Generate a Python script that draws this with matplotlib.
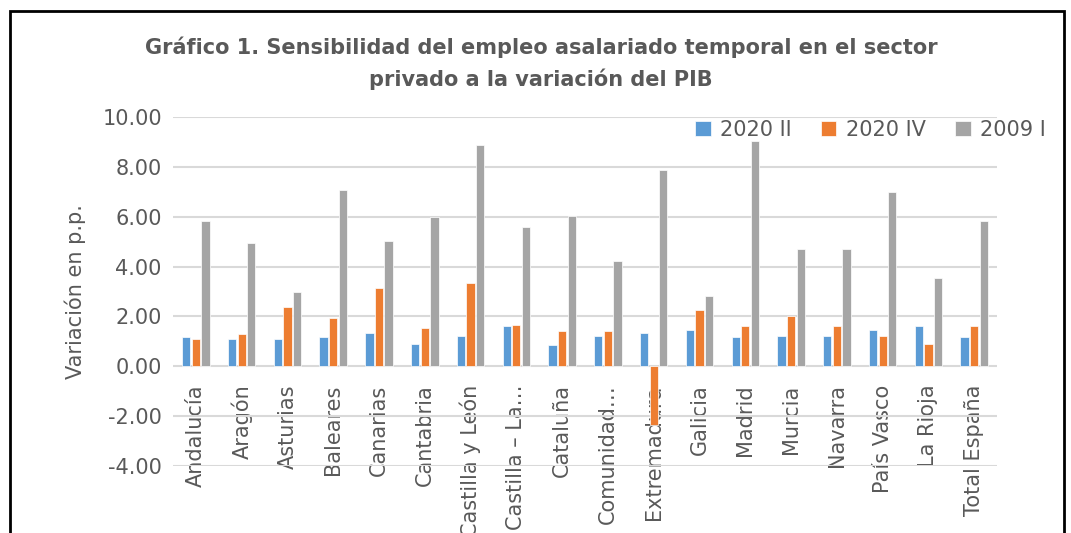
import matplotlib
matplotlib.use("Agg")
import numpy as np
import matplotlib.pyplot as plt
from matplotlib.patches import Rectangle
from matplotlib.ticker import FormatStrFormatter

regiones = ["Andalucía", "Aragón", "Asturias", "Baleares", "Canarias", "Cantabria",
            "Castilla y León", "Castilla – La…", "Cataluña", "Comunidad…", "Extremadura",
            "Galicia", "Madrid", "Murcia", "Navarra", "País Vasco", "La Rioja", "Total España"]
v2020_ii = [1.17, 1.10, 1.10, 1.17, 1.35, 0.91, 1.23, 1.61, 0.84, 1.23, 1.35,
            1.47, 1.17, 1.23, 1.23, 1.47, 1.61, 1.17]
v2020_iv = [1.09, 1.29, 2.37, 1.93, 3.15, 1.55, 3.34, 1.67, 1.42, 1.42, -2.37,
            2.25, 1.61, 2.00, 1.61, 1.23, 0.90, 1.61]
v2009_i = [5.84, 4.94, 2.96, 7.08, 5.01, 5.98, 8.86, 5.59, 6.04, 4.24, 7.89,
           2.83, 9.05, 4.69, 4.69, 7.00, 3.53, 5.84]
series = ["2020 II", "2020 IV", "2009 I"]
colores = ["#5B9BD5", "#ED7D31", "#A5A5A5"]

txt = "#595959"
fig = plt.figure(figsize=(10.71, 5.33), dpi=100)
ax = fig.add_axes([0.1615, 0.1257, 0.7695, 0.6548])

x = np.arange(len(regiones))
w = 0.18
for i, (vals, nombre, c) in enumerate(zip([v2020_ii, v2020_iv, v2009_i], series, colores)):
    ax.bar(x + (i - 1) * 0.21, vals, w, color=c, edgecolor="white", linewidth=0.5,
           label=nombre, zorder=3)

ax.set_xlim(-0.5, len(regiones) - 0.5)
ax.set_ylim(-4, 10)
ax.set_yticks(np.arange(-4, 10.1, 2))
ax.yaxis.set_major_formatter(FormatStrFormatter("%.2f"))
ax.grid(axis="y", color="#D9D9D9", linewidth=1.5, zorder=0)
ax.set_axisbelow(True)
for s in ax.spines.values():
    s.set_visible(False)
# the category labels hang from the zero line, as in Excel
ax.spines["bottom"].set_position(("data", 0))
ax.tick_params(length=0, labelsize=15, colors=txt, pad=8)
ax.set_xticks(x)
ax.set_xticklabels(regiones, rotation=90, rotation_mode="anchor", ha="right",
                   va="center", fontsize=15, color=txt)
ax.tick_params(axis="x", pad=13)
ax.set_ylabel("Variación en p.p.", fontsize=15, color=txt, labelpad=12)

ax.legend(loc="center right", bbox_to_anchor=(0.988, 0.756), bbox_transform=fig.transFigure,
          ncol=3, frameon=False, fontsize=15, handlelength=0.75, handleheight=0.75,
          columnspacing=1.4, handletextpad=0.45, borderpad=0.1, labelcolor=txt)

fig.text(0.505, 0.882, "Gráfico 1. Sensibilidad del empleo asalariado temporal en el sector\n"
         "privado a la variación del PIB", ha="center", va="center", fontsize=15,
         fontweight="bold", color=txt, linespacing=1.6)

fig.patches.append(Rectangle((0.0095, -0.1), 0.984, 1.08, transform=fig.transFigure,
                             fill=False, edgecolor="black", linewidth=2))

fig.savefig("out.png", dpi=100)
